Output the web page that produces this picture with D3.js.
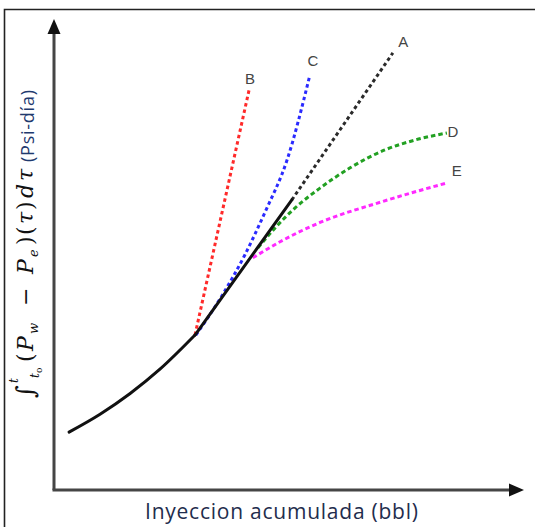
<!DOCTYPE html>
<html>
<head>
<meta charset="utf-8">
<script src="https://cdn.jsdelivr.net/npm/d3@7"></script>
<style>
  html, body { margin: 0; padding: 0; background: #fff; }
  svg { display: block; }
</style>
</head>
<body>
<div id="chart"></div>
<script>
// curve data (arbitrary units, 0..100 on both axes)
var baseCurve = [[3.2, 12.3], [9.8, 16.1], [16.2, 20.5], [22.6, 25.7], [30.0, 32.9]];
var trunk = [[30.0, 32.9], [50.6, 61.6]];
var seriesA = [[50.6, 61.6], [72.1, 92.8]];
var seriesB = [[30.0, 32.9], [41.5, 84.9]];
var seriesC = [[30.2, 32.9], [35.7, 41.2], [40.6, 49.9], [44.9, 59.0], [49.6, 70.1], [54.3, 87.5]];
var seriesD = [[43.4, 51.4], [47.0, 55.6], [51.3, 59.9], [56.6, 64.1], [63.0, 68.4], [70.4, 72.2], [76.8, 74.3], [83.6, 75.8]];
var seriesE = [[42.3, 49.3], [48.1, 52.7], [56.6, 56.8], [69.4, 61.1], [83.6, 65.2]];

var seriesNames = ['A', 'B', 'C', 'D', 'E'];
var seriesColors = ['#2a2a2a', '#ff2a2a', '#2a2aff', '#22a022', '#ff2aff'];
var labelPos = [[74.3, 95.1], [41.7, 87.3], [55.1, 91.1], [84.9, 76.0], [85.7, 67.9]];

var xTitle = 'Inyeccion acumulada (bbl)';
var yUnit = '(Psi-día)';

var W = 535, H = 527;

var svg = d3.select('#chart').append('svg')
  .attr('width', W)
  .attr('height', H);

var x = d3.scaleLinear().domain([0, 100]).range([54, 524]);
var y = d3.scaleLinear().domain([0, 100]).range([490, 19]);

// frame (only top and left edges are inside the picture)
svg.append('path')
  .attr('d', 'M4.5,' + H + 'V9.5H' + W)
  .attr('fill', 'none')
  .attr('stroke', '#222')
  .attr('stroke-width', 1.6);

// axes with arrow heads
var axisColor = '#454545';
svg.append('line')
  .attr('x1', x(0)).attr('y1', y(0))
  .attr('x2', x(0)).attr('y2', y(100) + 12)
  .attr('stroke', axisColor).attr('stroke-width', 3);
svg.append('line')
  .attr('x1', x(0) - 1.5).attr('y1', y(0))
  .attr('x2', x(100) - 12).attr('y2', y(0))
  .attr('stroke', axisColor).attr('stroke-width', 3);

svg.append('path')
  .attr('d', 'M' + x(0) + ',' + y(100) + 'l-6.5,15h13z')
  .attr('fill', '#111');
svg.append('path')
  .attr('d', 'M' + x(100) + ',' + y(0) + 'l-15,-6.5v13z')
  .attr('fill', '#111');

var lineLinear = d3.line()
  .x(function(d) { return x(d[0]); })
  .y(function(d) { return y(d[1]); });
var lineSmooth = d3.line()
  .x(function(d) { return x(d[0]); })
  .y(function(d) { return y(d[1]); })
  .curve(d3.curveMonotoneX);

// dashed branches first, solid black trunk on top
var branches = [seriesA, seriesB, seriesC, seriesD, seriesE];
var dashes = ['3.5,3', '3.5,3', '3.5,3', '4.5,3', '4.5,3'];

svg.append('g')
  .selectAll('path')
  .data(branches)
  .enter().append('path')
    .attr('d', function(d) { return d.length > 2 ? lineSmooth(d) : lineLinear(d); })
    .attr('fill', 'none')
    .attr('stroke', function(d, i) { return seriesColors[i]; })
    .attr('stroke-width', 3)
    .attr('stroke-dasharray', function(d, i) { return dashes[i]; });

svg.append('path')
  .attr('d', lineSmooth(baseCurve))
  .attr('fill', 'none')
  .attr('stroke', '#111')
  .attr('stroke-width', 3)
  .attr('stroke-linecap', 'round');
svg.append('path')
  .attr('d', lineLinear(trunk))
  .attr('fill', 'none')
  .attr('stroke', '#111')
  .attr('stroke-width', 3)
  .attr('stroke-linecap', 'round');

svg.append('g')
  .selectAll('text')
  .data(seriesNames)
  .enter().append('text')
    .attr('x', function(d, i) { return x(labelPos[i][0]); })
    .attr('y', function(d, i) { return y(labelPos[i][1]); })
    .attr('dy', '0.36em')
    .attr('text-anchor', 'middle')
    .style('font-family', '"Liberation Sans", Arial, sans-serif')
    .style('font-size', '15px')
    .style('fill', '#444')
    .text(function(d) { return d; });

// x title
svg.append('text')
  .attr('x', 145)
  .attr('y', 519)
  .attr('textLength', 273)
  .attr('lengthAdjust', 'spacing')
  .style('font-family', '"Open Sans", sans-serif')
  .style('font-size', '21px')
  .style('fill', '#1f2d4d')
  .text(xTitle);

// y title: integral expression then the unit, reading bottom to top.
// each piece: [text, offset along, baseline shift, size, italic]
var yPieces = [
  ['\u222B', -2, 1, 25, false],
  ['t', 13, -15, 12, true],
  ['t', 18, 6, 12, true],
  ['o', 23, 9, 9, false],
  ['(', 34, 0, 22, false],
  ['P', 45, 0, 22, true],
  ['w', 62, 5, 13, true],
  ['\u2212', 90, 0, 22, false],
  ['P', 122, 0, 22, true],
  ['e', 139, 5, 13, true],
  [')', 151, 0, 22, false],
  ['(', 161, 0, 22, false],
  ['\u03C4', 172, 0, 22, true],
  [')', 186, 0, 22, false],
  ['d', 198, 0, 22, true],
  ['\u03C4', 215, 0, 22, true]
];

var yt = svg.append('text')
  .attr('transform', 'translate(33,396) rotate(-90)')
  .style('font-family', '"DejaVu Serif", serif')
  .style('fill', '#111');

yt.selectAll('tspan')
  .data(yPieces)
  .enter().append('tspan')
    .attr('x', function(d) { return d[1]; })
    .attr('y', function(d) { return d[2]; })
    .style('font-size', function(d) { return d[3] + 'px'; })
    .style('font-style', function(d) { return d[4] ? 'italic' : 'normal'; })
    .text(function(d) { return d[0]; });

svg.append('text')
  .attr('transform', 'translate(34,396) rotate(-90)')
  .attr('x', 234)
  .attr('textLength', 72)
  .attr('lengthAdjust', 'spacing')
  .style('font-family', '"Open Sans", sans-serif')
  .style('font-size', '18px')
  .style('fill', '#1f3a6e')
  .text(yUnit);
</script>
</body>
</html>
